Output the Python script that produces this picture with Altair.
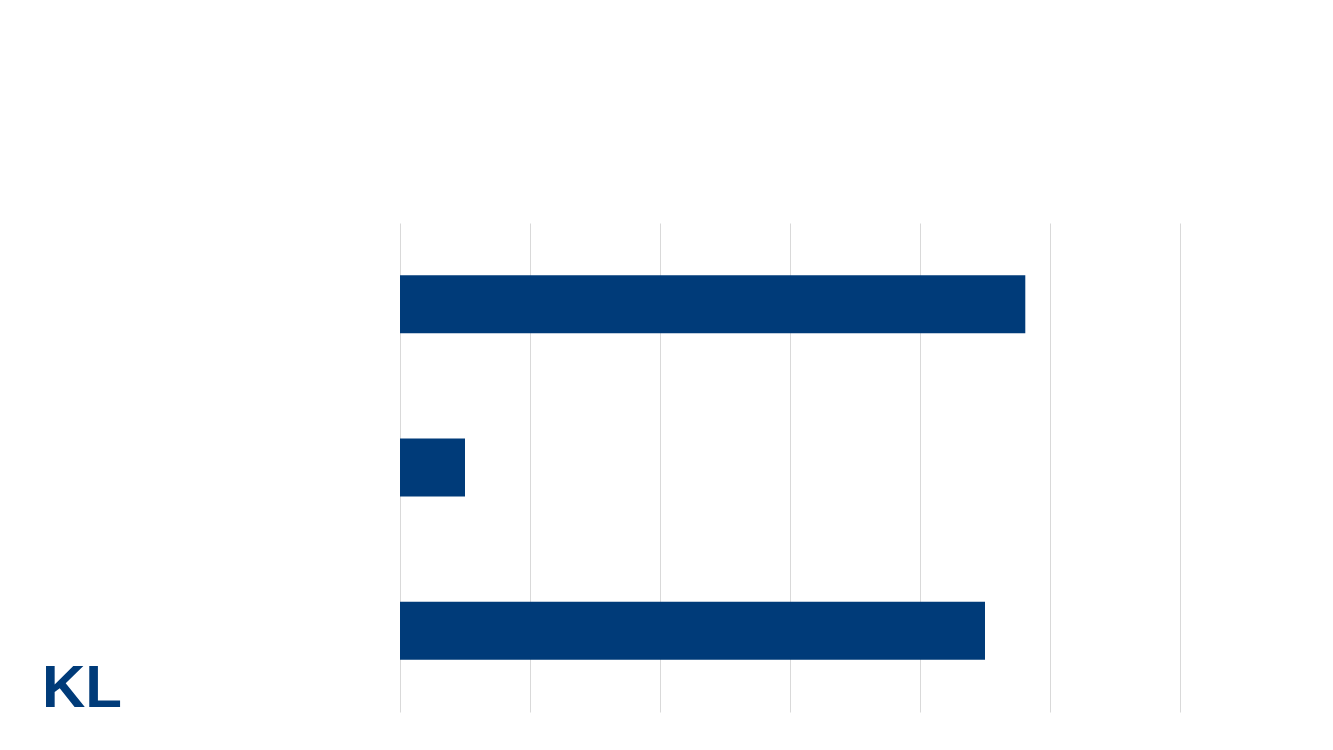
import altair as alt
import pandas as pd

categories = ["Kategori 1", "Kategori 2", "Kategori 3"]
values = [4.81, 0.5, 4.5]
x_ticks = [0, 1, 2, 3, 4, 5, 6]
logo_text = ["KL"]

df = pd.DataFrame({"kategori": categories, "værdi": values})
logo = pd.DataFrame({"tekst": logo_text})

bars = alt.Chart(df).mark_bar(color="#003B79").encode(
    x=alt.X("værdi:Q",
            scale=alt.Scale(domain=[0, 6], nice=False),
            axis=alt.Axis(values=x_ticks, labels=False, ticks=False, domain=False,
                          title=None, grid=True, gridColor="#d9d9d9", gridWidth=1)),
    y=alt.Y("kategori:N", sort=categories,
            scale=alt.Scale(paddingInner=0.645, paddingOuter=0.32),
            axis=None),
)

logo_mark = alt.Chart(logo).mark_text(
    font="Liberation Sans", fontWeight="bold", fontSize=60, color="#003B79",
    align="left", baseline="alphabetic"
).encode(
    x=alt.value(-358),
    y=alt.value(484),
    text="tekst:N",
)

chart = alt.layer(bars, logo_mark).properties(
    width=780, height=489,
    padding={"left": 392, "top": 215, "right": 40, "bottom": 20},
    autosize=alt.AutoSizeParams(type="none"),
    view=alt.ViewBackground(stroke="transparent", strokeWidth=0),
).configure_view(stroke="transparent", strokeWidth=0).configure_axis(domain=False).configure(background="white")

chart.save("out.html", embed_options={"renderer": "svg", "actions": False})
